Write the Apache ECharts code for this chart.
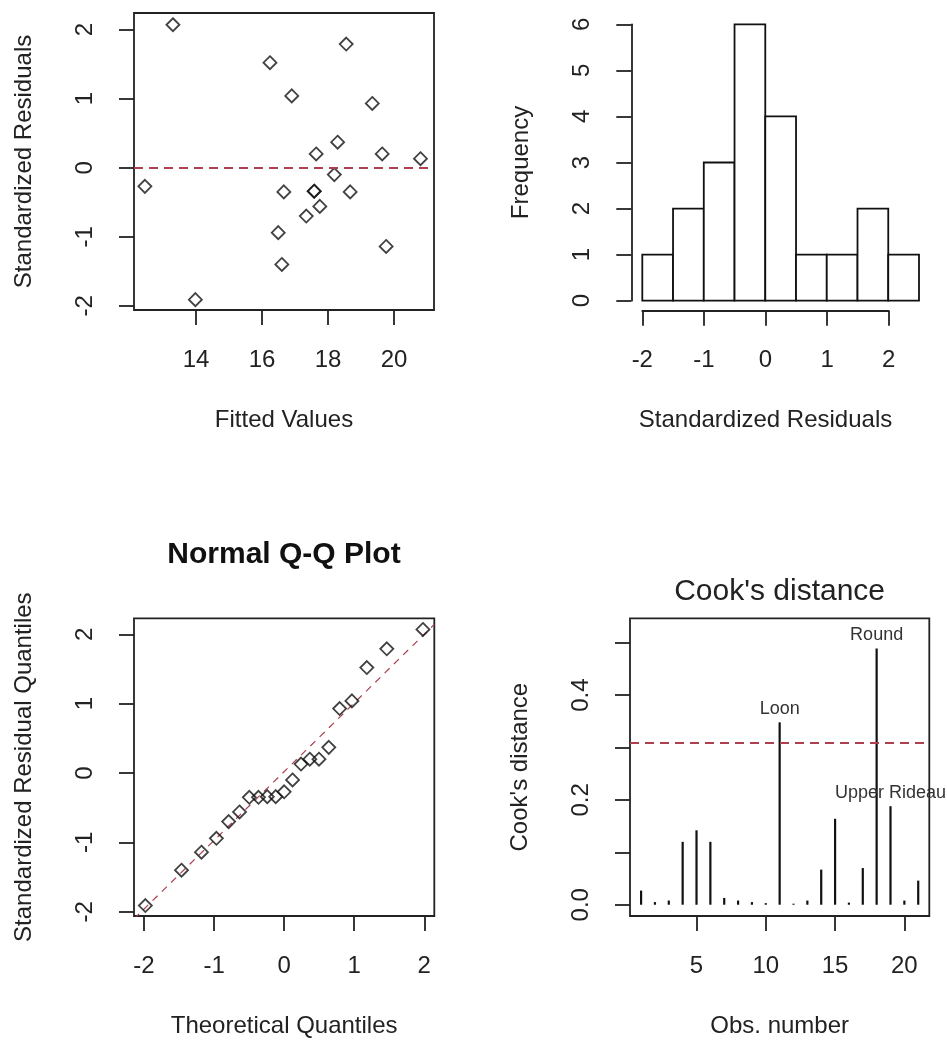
<!DOCTYPE html>
<html>
<head>
<meta charset="utf-8">
<script src="https://cdn.jsdelivr.net/npm/echarts@6/dist/echarts.min.js"></script>
<style>
  html, body { margin: 0; padding: 0; background: #fff; }
  #chart { width: 947px; height: 1042px; }
</style>
</head>
<body>
<div id="chart"></div>
<script>
// ---- Regression diagnostics data ----
// Fitted values and standardized residuals, one entry per observation
const fittedValues = [13.30, 13.98, 12.45, 16.24, 18.55, 16.90, 19.34, 18.29, 17.64, 19.64, 20.80,
                      18.19, 16.66, 17.58, 18.67, 17.75, 17.34, 16.49, 19.76, 16.60, 17.58];
const stdResiduals = [2.07, -1.91, -0.27, 1.52, 1.79, 1.04, 0.93, 0.37, 0.20, 0.20, 0.13,
                      -0.10, -0.35, -0.34, -0.35, -0.56, -0.70, -0.94, -1.14, -1.40, -0.34];

// Histogram of the standardized residuals
const histBreaks = [-2, -1.5, -1, -0.5, 0, 0.5, 1, 1.5, 2, 2.5];
const histCounts = [1, 2, 3, 6, 4, 1, 1, 2, 1];

// Normal Q-Q: theoretical normal quantiles for 21 points
const theoreticalQuantiles = [-1.981, -1.465, -1.180, -0.967, -0.792, -0.637, -0.497, -0.366, -0.241, -0.120, 0,
                              0.120, 0.241, 0.366, 0.497, 0.637, 0.792, 0.967, 1.180, 1.465, 1.981];
const qqLineIntercept = 0.02;
const qqLineSlope = 0.99;

// Cook's distance per observation
const obsNumbers = [1, 2, 3, 4, 5, 6, 7, 8, 9, 10, 11, 12, 13, 14, 15, 16, 17, 18, 19, 20, 21];
const cooksDistance = [0.027, 0.005, 0.008, 0.120, 0.142, 0.120, 0.013, 0.008, 0.005, 0.003, 0.348,
                       0.002, 0.008, 0.067, 0.164, 0.004, 0.070, 0.489, 0.188, 0.008, 0.046];
const cooksCutoff = 0.308;
const obsNames = { 11: 'Loon', 18: 'Round', 19: 'Upper Rideau' };

// Tick values
const fittedTicks = [14, 16, 18, 20];
const residTicks = [-2, -1, 0, 1, 2];
const freqTicks = [0, 1, 2, 3, 4, 5, 6];
const histXTicks = [-2, -1, 0, 1, 2];
const quantileTicks = [-2, -1, 0, 1, 2];
const cooksTicks = [0, 0.1, 0.2, 0.3, 0.4, 0.5];
const cooksLabelTicks = [0, 0.2, 0.4];
const obsTicks = [5, 10, 15, 20];

// ---- Styling helpers ----
const FONT = '"Liberation Sans", Arial, Helvetica, sans-serif';
const INK = '#222';
const DASH_RED = '#ad4050';

function axis(dim, gridIndex, min, max, ticks, name, extra) {
  const ax = {
    type: 'value',
    gridIndex: gridIndex,
    min: min,
    max: max,
    name: name,
    nameLocation: 'middle',
    nameGap: 98,
    nameTextStyle: { fontFamily: FONT, fontSize: 24, color: INK },
    axisLine: { show: false, onZero: false, lineStyle: { color: INK, width: 1.8 } },
    axisTick: { show: true, inside: false, length: 15, customValues: ticks, lineStyle: { color: INK, width: 1.8 } },
    axisLabel: { customValues: ticks, margin: 38, fontFamily: FONT, fontSize: 24, color: INK },
    splitLine: { show: false }
  };
  if (dim === 'y') {
    ax.axisLabel.rotate = 90;
    ax.axisLabel.margin = 37;
  }
  if (extra) {
    if (extra.axisLine) Object.assign(ax.axisLine, extra.axisLine);
    if (extra.axisLabel) Object.assign(ax.axisLabel, extra.axisLabel);
    ['offset', 'show', 'position'].forEach(k => { if (k in extra) ax[k] = extra[k]; });
  }
  return ax;
}

const boxGrid = { show: true, borderColor: INK, borderWidth: 1.8, backgroundColor: 'transparent' };

const diamond = {
  symbol: 'diamond',
  symbolSize: 13,
  itemStyle: { color: 'rgba(0,0,0,0)', borderColor: '#111', borderWidth: 1.8 }
};

const sortedResiduals = stdResiduals.slice().sort((a, b) => a - b);

const chart = echarts.init(document.getElementById('chart'), null, { renderer: 'canvas' });

const qqMin = -2.143, qqMax = 2.143;

chart.setOption({
  animation: false,
  textStyle: { fontFamily: FONT },
  grid: [
    Object.assign({ left: 134, top: 13, width: 300, height: 297 }, boxGrid),          // residuals vs fitted
    { left: 642.3, top: 24.3, width: 276.7, height: 276.4, show: false },             // histogram bars
    { left: 642.3, top: 24.3, width: 246.4, height: 276.4, show: false },             // histogram x axis
    Object.assign({ left: 134, top: 618.3, width: 300.3, height: 297.7 }, boxGrid),   // Q-Q
    Object.assign({ left: 630, top: 618.3, width: 299.3, height: 297.7 }, boxGrid)    // Cook's distance
  ],
  xAxis: [
    axis('x', 0, 12.12, 21.21, fittedTicks, 'Fitted Values'),
    axis('x', 1, -2, 2.5, [], '', { show: false }),
    axis('x', 2, -2, 2, histXTicks, 'Standardized Residuals', { offset: 10, axisLine: { show: true } }),
    axis('x', 3, qqMin, qqMax, quantileTicks, 'Theoretical Quantiles'),
    axis('x', 4, 0.2, 21.8, obsTicks, 'Obs. number')
  ],
  yAxis: [
    axis('y', 0, -2.06, 2.24, residTicks, 'Standardized Residuals'),
    axis('y', 1, 0, 6, freqTicks, 'Frequency', { offset: 11, axisLine: { show: true } }),
    axis('y', 2, 0, 6, [], '', { show: false }),
    axis('y', 3, -2.06, 2.23, quantileTicks, 'Standardized Residual Quantiles'),
    axis('y', 4, -0.0215, 0.5465, cooksTicks, "Cook's distance",
         { axisLabel: { customValues: cooksLabelTicks, formatter: v => Number(v).toFixed(1) } })
  ],
  series: [
    // Residuals vs fitted values
    Object.assign({
      type: 'scatter', xAxisIndex: 0, yAxisIndex: 0,
      data: fittedValues.map((f, i) => [f, stdResiduals[i]]),
      markLine: {
        silent: true, symbol: ['none', 'none'], label: { show: false },
        lineStyle: { color: DASH_RED, width: 2, type: [9, 6] },
        data: [{ yAxis: 0 }]
      }
    }, diamond),
    // Histogram of residuals
    {
      type: 'custom', xAxisIndex: 1, yAxisIndex: 1,
      data: histCounts.map((c, i) => [histBreaks[i], histBreaks[i + 1], c]),
      renderItem: function (params, api) {
        const p0 = api.coord([api.value(0), 0]);
        const p1 = api.coord([api.value(1), api.value(2)]);
        return {
          type: 'rect',
          shape: { x: p0[0], y: p1[1], width: p1[0] - p0[0], height: p0[1] - p1[1] },
          style: { fill: '#fff', stroke: '#111', lineWidth: 1.8 }
        };
      }
    },
    // Normal Q-Q points
    Object.assign({
      type: 'scatter', xAxisIndex: 3, yAxisIndex: 3,
      data: theoreticalQuantiles.map((q, i) => [q, sortedResiduals[i]])
    }, diamond),
    // Q-Q reference line
    {
      type: 'line', xAxisIndex: 3, yAxisIndex: 3, symbol: 'none', silent: true, z: 1,
      lineStyle: { color: DASH_RED, width: 1.2, type: [7, 6] },
      data: [[qqMin, qqLineIntercept + qqLineSlope * qqMin], [qqMax, qqLineIntercept + qqLineSlope * qqMax]]
    },
    // Cook's distance spikes
    {
      type: 'bar', xAxisIndex: 4, yAxisIndex: 4, barWidth: 2.2,
      itemStyle: { color: '#111' },
      data: obsNumbers.map((n, i) => [n, cooksDistance[i]]),
      label: {
        show: true, position: 'top', distance: 4,
        fontFamily: FONT, fontSize: 18, color: '#333',
        formatter: p => obsNames[p.value[0]] || ''
      },
      markLine: {
        silent: true, symbol: ['none', 'none'], label: { show: false },
        lineStyle: { color: DASH_RED, width: 2, type: [9, 6] },
        data: [{ yAxis: cooksCutoff }]
      }
    }
  ],
  graphic: [
    {
      type: 'text', x: 284, y: 555,
      style: { text: 'Normal Q-Q Plot', font: 'bold 30px ' + FONT, fill: '#111', align: 'center', verticalAlign: 'middle' }
    },
    {
      type: 'text', x: 779.6, y: 592,
      style: { text: "Cook's distance", font: '30px ' + FONT, fill: INK, align: 'center', verticalAlign: 'middle' }
    }
  ]
});
</script>
</body>
</html>
